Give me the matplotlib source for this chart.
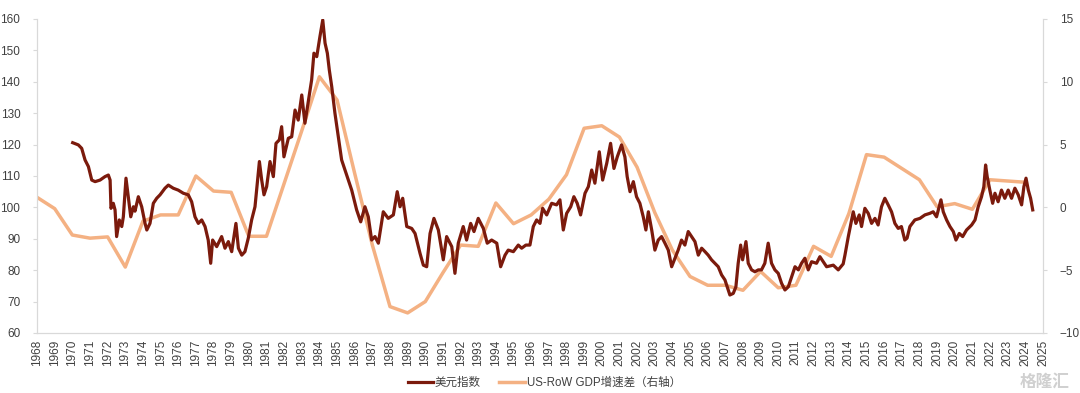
import matplotlib.pyplot as plt

plt.rcParams['font.family'] = ['Liberation Sans', 'Noto Sans CJK SC', 'DejaVu Sans']

# US-RoW GDP growth gap (right axis), annual
gdp_years = list(range(1968, 2025))
gdp_gap = [0.8, -0.1, -2.2, -2.45, -2.35, -4.75, -1.1, -0.6, -0.6, 2.5,
           1.3, 1.2, -2.3, -2.3, 1.9, 6.1, 10.4, 8.55, 2.7, -3.0,
           -7.9, -8.4, -7.5, -5.2, -3.0, -3.1, 0.35, -1.3, -0.6, 0.65,
           2.6, 6.3, 6.5, 5.6, 3.2, -0.4, -3.4, -5.5, -6.2, -6.2,
           -6.6, -5.1, -6.4, -6.2, -3.1, -3.9, -0.5, 4.2, 4.0, 3.1,
           2.2, 0.05, 0.3, -0.15, 2.2, 2.1, 2.0]

# dollar index (left axis)
dxy_t = [1970.02, 1970.34, 1970.53, 1970.72, 1970.91, 1971.1, 1971.29, 1971.57, 1971.85, 1972.04,
         1972.14, 1972.19, 1972.32, 1972.42, 1972.51, 1972.66, 1972.8, 1972.89, 1973.04, 1973.17,
         1973.31, 1973.46, 1973.55, 1973.74, 1973.93, 1974.12, 1974.22, 1974.4, 1974.59, 1974.78,
         1974.97, 1975.25, 1975.44, 1975.72, 1976.0, 1976.29, 1976.57, 1976.76, 1976.95, 1977.14,
         1977.33, 1977.52, 1977.7, 1977.84, 1977.95, 1978.18, 1978.46, 1978.65, 1978.84, 1979.03,
         1979.27, 1979.41, 1979.6, 1979.78, 1979.97, 1980.16, 1980.35, 1980.48, 1980.6, 1980.73,
         1980.86, 1981.01, 1981.2, 1981.39, 1981.54, 1981.73, 1981.86, 1981.99, 1982.24, 1982.43,
         1982.62, 1982.8, 1983.0, 1983.18, 1983.37, 1983.56, 1983.69, 1983.85, 1984.03, 1984.19,
         1984.32, 1984.45, 1984.56, 1984.7, 1984.88, 1985.07, 1985.26, 1985.45, 1985.64, 1985.83,
         1986.11, 1986.34, 1986.58, 1986.77, 1986.96, 1987.15, 1987.34, 1987.62, 1987.9, 1988.19,
         1988.41, 1988.57, 1988.72, 1988.95, 1989.23, 1989.42, 1989.7, 1989.89, 1990.08, 1990.27,
         1990.49, 1990.74, 1991.02, 1991.21, 1991.5, 1991.68, 1991.87, 1992.15, 1992.34, 1992.57,
         1992.76, 1993.0, 1993.29, 1993.51, 1993.76, 1994.05, 1994.27, 1994.52, 1994.7, 1994.99,
         1995.27, 1995.46, 1995.7, 1995.93, 1996.12, 1996.31, 1996.5, 1996.65, 1996.88, 1997.16,
         1997.44, 1997.63, 1997.82, 1998.01, 1998.24, 1998.42, 1998.61, 1998.8, 1999.05, 1999.24,
         1999.43, 1999.61, 1999.86, 2000.05, 2000.28, 2000.5, 2000.69, 2000.88, 2001.12, 2001.31,
         2001.44, 2001.6, 2001.79, 2001.97, 2002.16, 2002.35, 2002.5, 2002.64, 2002.83, 2003.01,
         2003.2, 2003.39, 2003.58, 2003.77, 2003.96, 2004.15, 2004.33, 2004.52, 2004.71, 2004.9,
         2005.09, 2005.28, 2005.47, 2005.66, 2005.85, 2006.03, 2006.22, 2006.41, 2006.6, 2006.79,
         2006.98, 2007.11, 2007.26, 2007.45, 2007.6, 2007.73, 2007.87, 2007.98, 2008.17, 2008.3,
         2008.49, 2008.68, 2008.87, 2009.05, 2009.24, 2009.43, 2009.62, 2009.81, 2010.0, 2010.19,
         2010.38, 2010.57, 2010.76, 2010.95, 2011.14, 2011.32, 2011.51, 2011.7, 2011.89, 2012.17,
         2012.36, 2012.55, 2012.74, 2013.12, 2013.4, 2013.68, 2013.78, 2013.97, 2014.16, 2014.25,
         2014.4, 2014.59, 2014.72, 2014.91, 2015.1, 2015.29, 2015.48, 2015.66, 2015.85, 2016.04,
         2016.23, 2016.42, 2016.61, 2016.8, 2016.98, 2017.17, 2017.3, 2017.46, 2017.74, 2018.03,
         2018.31, 2018.59, 2018.78, 2018.97, 2019.22, 2019.35, 2019.54, 2019.73, 2019.92, 2020.07,
         2020.26, 2020.45, 2020.67, 2020.96, 2021.15, 2021.33, 2021.52, 2021.65, 2021.75, 2021.84,
         2021.99, 2022.15, 2022.28, 2022.46, 2022.65, 2022.84, 2023.03, 2023.22, 2023.41, 2023.6,
         2023.79, 2023.92, 2024.04, 2024.17, 2024.3, 2024.42]
dxy_v = [120.6, 119.9, 118.8, 115.1, 113.0, 108.7, 108.2, 108.7, 109.8, 110.3,
         108.7, 99.7, 101.3, 99.2, 90.7, 96.0, 93.9, 97.0, 109.3, 103.4,
         97.0, 100.2, 98.8, 103.4, 100.2, 94.9, 92.8, 94.9, 101.3, 102.9,
         104.0, 106.1, 107.1, 106.1, 105.5, 104.5, 104.0, 101.8, 97.0, 94.9,
         96.0, 93.9, 89.6, 82.2, 89.6, 87.5, 90.7, 87.0, 89.1, 85.9,
         94.9, 87.0, 84.8, 85.9, 90.2, 96.0, 100.2, 107.7, 114.6, 108.7,
         104.0, 106.6, 114.6, 109.8, 120.4, 121.5, 125.7, 116.1, 122.0, 122.5,
         131.0, 127.8, 135.8, 126.8, 133.7, 140.6, 149.1, 148.0, 154.4, 159.7,
         152.3, 149.1, 143.8, 138.4, 130.0, 122.5, 115.1, 111.9, 108.7, 105.5,
         99.2, 95.4, 100.2, 97.0, 89.6, 90.7, 88.6, 98.6, 96.5, 97.6,
         105.0, 100.2, 102.9, 93.9, 93.3, 91.7, 85.4, 81.6, 81.1, 91.7,
         96.5, 92.8, 83.3, 90.7, 87.5, 79.0, 88.6, 93.9, 89.6, 94.9,
         92.3, 96.5, 93.3, 88.6, 89.6, 88.6, 81.1, 84.8, 86.4, 85.9,
         88.0, 87.0, 88.0, 88.0, 93.9, 96.0, 94.9, 99.7, 97.6, 101.3,
         100.8, 102.4, 92.8, 98.1, 100.2, 103.4, 101.3, 97.6, 104.5, 106.6,
         111.9, 107.7, 117.7, 108.7, 114.0, 120.4, 112.4, 116.1, 119.9, 116.1,
         109.8, 105.0, 108.2, 103.4, 101.3, 97.0, 92.8, 98.6, 92.8, 86.4,
         89.6, 90.7, 88.6, 86.4, 81.1, 83.8, 86.4, 89.6, 88.0, 92.3,
         90.7, 89.1, 84.8, 87.0, 85.9, 84.8, 83.3, 82.2, 81.1, 78.5,
         76.9, 74.7, 72.1, 72.6, 74.7, 82.2, 88.0, 83.3, 89.1, 82.2,
         80.1, 79.5, 80.1, 80.1, 82.2, 88.6, 82.2, 80.1, 79.0, 75.8,
         73.7, 74.7, 77.9, 81.1, 80.1, 82.2, 83.8, 80.1, 82.7, 82.2,
         84.3, 82.7, 81.1, 81.6, 80.1, 82.0, 84.8, 90.7, 96.0, 98.6,
         94.9, 97.6, 93.9, 99.7, 98.1, 94.9, 96.5, 94.4, 100.2, 102.9,
         100.8, 98.6, 94.9, 93.3, 93.9, 89.6, 90.2, 93.9, 96.0, 96.5,
         97.6, 98.1, 98.6, 97.0, 102.4, 98.6, 96.0, 93.9, 92.3, 89.6,
         91.7, 90.7, 92.8, 94.4, 96.0, 100.2, 103.4, 106.6, 113.5, 109.8,
         105.5, 101.3, 104.5, 101.8, 105.5, 102.9, 105.5, 102.9, 106.1, 104.0,
         100.8, 106.6, 109.3, 105.5, 102.9, 99.2]

fig = plt.figure(figsize=(10.8, 3.93), dpi=100)
ax = fig.add_axes([0.0343, 0.1527, 0.9314, 0.799])
ax2 = ax.twinx()

l1, = ax.plot(dxy_t, dxy_v, color='#7B1A0C', lw=2.3, label='美元指数')
l2, = ax2.plot(gdp_years, gdp_gap, color='#F4B183', lw=2.5, label='US-RoW GDP增速差（右轴）')
ax.set_zorder(ax2.get_zorder() + 1)
ax.patch.set_visible(False)

ax.set_xlim(1968, 2025)
ax.set_ylim(60, 160)
ax2.set_ylim(-10, 15)
ax.set_yticks(range(60, 161, 10))
ax2.set_yticks(range(-10, 16, 5))
ax.set_xticks(range(1968, 2026))
ax.set_xticklabels([str(y) for y in range(1968, 2026)], rotation=90)

for a in (ax, ax2):
    for s in a.spines.values():
        s.set_color('#D9D9D9')
    a.spines['top'].set_visible(False)
    a.tick_params(colors='#D9D9D9', labelcolor='#404040', labelsize=8.5, length=3)
ax.tick_params(axis='y', pad=9)
ax2.tick_params(axis='y', pad=9)
ax.tick_params(axis='x', length=0, pad=5)

leg = fig.legend([l1, l2], ['美元指数', 'US-RoW GDP增速差（右轴）'], loc='center',
                 bbox_to_anchor=(0.504, 0.025), ncol=2, frameon=False, fontsize=8.3,
                 handlelength=2.2, columnspacing=1.6, handletextpad=0.15)
for t in leg.get_texts():
    t.set_color('#404040')

fig.text(0.99, 0.03, '格隆汇', ha='right', va='center', fontsize=12,
         color='#D0D0D0', fontweight='bold')

fig.savefig('out.png', dpi=100)
